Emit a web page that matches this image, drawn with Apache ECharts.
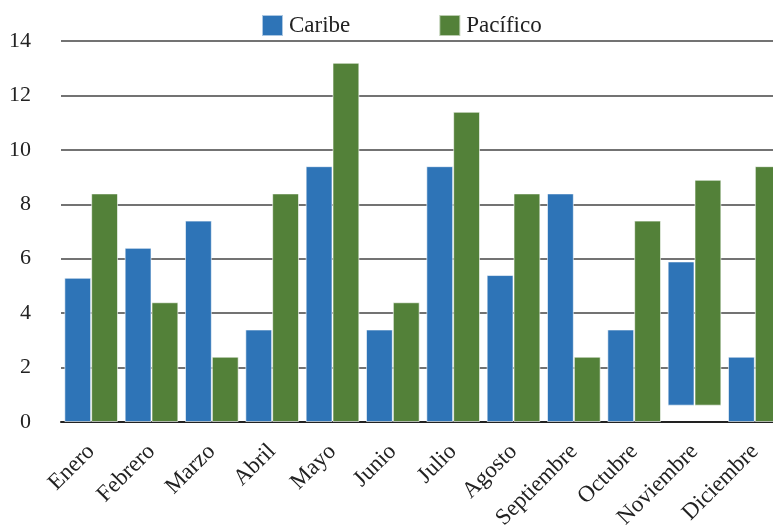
<!DOCTYPE html>
<html lang="es">
<head>
  <meta charset="UTF-8">
  <script src="https://cdn.jsdelivr.net/npm/echarts@6/dist/echarts.min.js"></script>
</head>
<body style="margin:0;">
<div id="main" style="width:773px;height:529px;"></div>
<script>
  var meses = ['Enero','Febrero','Marzo','Abril','Mayo','Junio','Julio','Agosto','Septiembre','Octubre','Noviembre','Diciembre'];
  // bar tops
  var caribe = [5.3, 6.4, 7.4, 3.4, 9.4, 3.4, 9.4, 5.4, 8.4, 3.4, 5.9, 2.4];
  var pacifico = [8.4, 4.4, 2.4, 8.4, 13.2, 4.4, 11.4, 8.4, 2.4, 7.4, 8.9, 9.4];
  // bar bottoms (Noviembre floats)
  var base = [0, 0, 0, 0, 0, 0, 0, 0, 0, 0, 0.6, 0];

  var serif = 'Liberation Serif';
  var azul = '#2e74b7';
  var verde = '#538139';

  function diff(tops){
    var out = [];
    for (var i = 0; i < tops.length; i++) out.push(+(tops[i] - base[i]).toFixed(2));
    return out;
  }

  var chart = echarts.init(document.querySelector('#main'));
  chart.setOption({
    animation:false,
    legend:{
      data:['Caribe','Pacífico'],
      top:9, left:256,
      itemWidth:21, itemHeight:21, itemGap:88,
      icon:'rect',
      textStyle:{fontFamily:serif,fontSize:23,color:'#222',padding:[0,0,0,1]}
    },
    grid:{left:61,top:41,width:724,bottom:107,outerBoundsMode:'none'},
    xAxis:{
      type:'category',
      data:meses,
      axisTick:{show:false},
      axisLine:{lineStyle:{color:'#222',width:2}},
      axisLabel:{rotate:45,fontFamily:serif,fontSize:23,color:'#222',margin:26,interval:0}
    },
    yAxis:{
      type:'value',
      min:0, max:14, interval:2,
      axisLabel:{fontFamily:serif,fontSize:22,color:'#222',margin:30},
      splitLine:{lineStyle:{color:'#444',width:1.5}}
    },
    series:[{
      name:'baseC',
      type:'bar',
      stack:'c',
      data:base,
      itemStyle:{color:'transparent'},
      barCategoryGap:'11%',
      barGap:'0%',
      silent:true
    },{
      name:'Caribe',
      type:'bar',
      stack:'c',
      data:diff(caribe),
      itemStyle:{color:azul,borderColor:'rgba(255,255,255,0.6)',borderWidth:1}
    },{
      name:'baseP',
      type:'bar',
      stack:'p',
      data:base,
      itemStyle:{color:'transparent'},
      silent:true
    },{
      name:'Pacífico',
      type:'bar',
      stack:'p',
      data:diff(pacifico),
      itemStyle:{color:verde,borderColor:'rgba(255,255,255,0.6)',borderWidth:1}
    }]
  });
</script>
</body>
</html>
